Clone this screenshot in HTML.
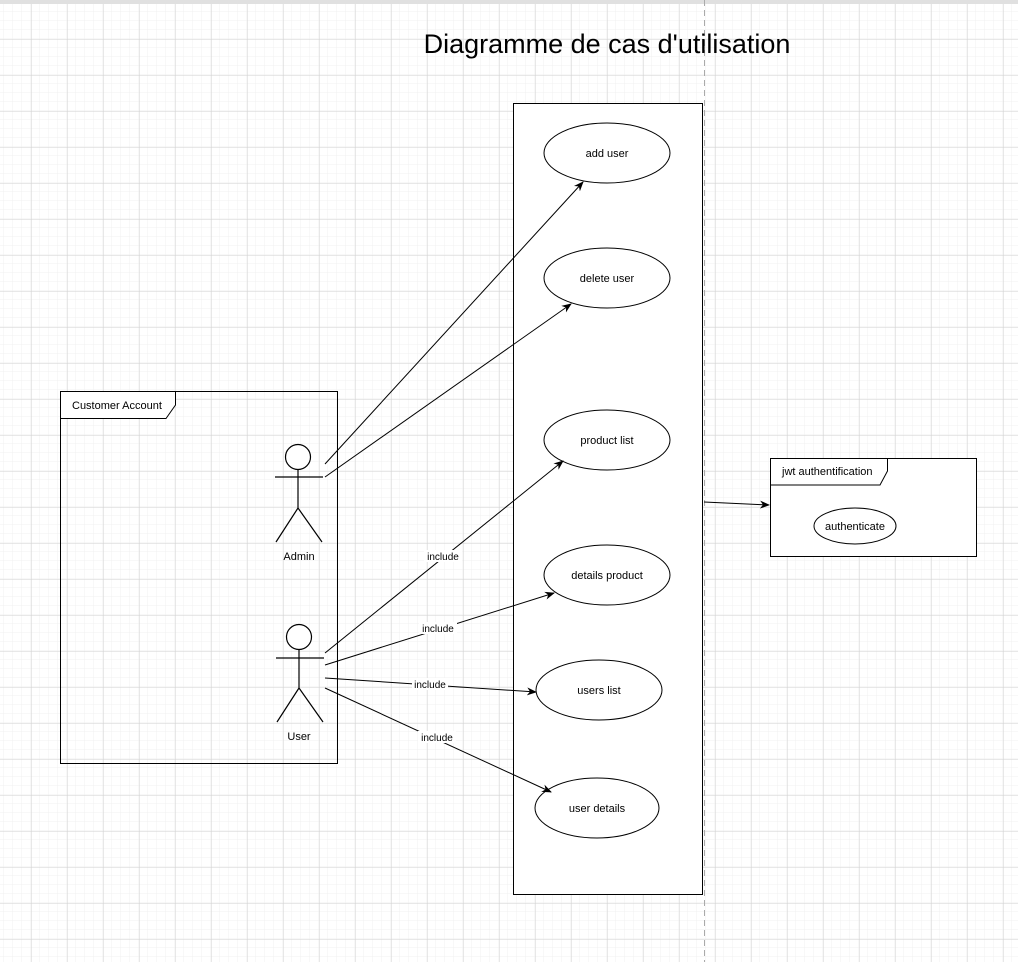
<!DOCTYPE html>
<html><head><meta charset="utf-8"><style>
body{margin:0;width:1018px;height:962px;overflow:hidden;background:#fff;font-family:"Liberation Sans",Arial,sans-serif}
svg text{font-family:"Liberation Sans",Arial,sans-serif}
</style></head><body>
<svg width="1018" height="962" xmlns="http://www.w3.org/2000/svg">
<defs>
<pattern id="minor" x="4" y="3" width="9" height="9" patternUnits="userSpaceOnUse"><path d="M9 0V9M0 9H9" stroke="#f0f0f0" stroke-width="1" fill="none"/></pattern>
<pattern id="major" x="31.5" y="3.5" width="36" height="36" patternUnits="userSpaceOnUse"><path d="M0 0V36M0 0H36" stroke="#d2d2d2" stroke-width="1" fill="none"/></pattern>
<marker id="a" markerWidth="10" markerHeight="10" refX="9" refY="5" orient="auto" markerUnits="userSpaceOnUse"><path d="M0 1L10 5L0 9L3 5Z" fill="#000"/></marker>
</defs>
<rect width="1018" height="962" fill="url(#minor)"/>
<rect width="1018" height="962" fill="url(#major)"/>
<rect x="0" y="0" width="1018" height="4" fill="#e0e0e0"/>
<line x1="704.5" y1="0" x2="704.5" y2="962" stroke="#aaa" stroke-dasharray="6,4"/>
<text x="607" y="53" font-size="27" text-anchor="middle" fill="#000">Diagramme de cas d'utilisation</text>
<rect x="513.5" y="103.5" width="189" height="791" fill="#fff" stroke="#000"/>
<g fill="#fff" stroke="#000">
<ellipse cx="607" cy="153" rx="63" ry="30"/>
<ellipse cx="607" cy="278" rx="63" ry="30"/>
<ellipse cx="607" cy="440" rx="63" ry="30"/>
<ellipse cx="607" cy="575" rx="63" ry="30"/>
<ellipse cx="599" cy="690" rx="63" ry="30"/>
<ellipse cx="597" cy="808" rx="62" ry="30"/>
</g>
<g font-size="11" text-anchor="middle" fill="#000">
<text x="607" y="157">add user</text>
<text x="607" y="282">delete user</text>
<text x="607" y="444">product list</text>
<text x="607" y="579">details product</text>
<text x="599" y="694">users list</text>
<text x="597" y="812">user details</text>
</g>
<rect x="60.5" y="391.5" width="277" height="372" fill="#fff" fill-opacity="0" stroke="#000"/>
<path d="M60.5 391.5H175.5V405L166 418.5H60.5Z" fill="#fff" stroke="#000"/>
<text x="72" y="409" font-size="11">Customer Account</text>
<g stroke="#000" fill="none" stroke-width="1.2">
<circle cx="298" cy="457" r="12.5" fill="#fff"/>
<path d="M298 469.5V508M275 477H323M298 508L276 542M298 508L322 542"/>
<circle cx="299" cy="637" r="12.5" fill="#fff"/>
<path d="M299 649.5V688M276 658H324M299 688L277 722M299 688L323 722"/>
</g>
<text x="299" y="560" font-size="11" text-anchor="middle">Admin</text>
<text x="299" y="740" font-size="11" text-anchor="middle">User</text>
<g stroke="#000" fill="none" stroke-width="1">
<line x1="325" y1="464" x2="583" y2="182" marker-end="url(#a)"/>
<line x1="325" y1="477" x2="571" y2="304" marker-end="url(#a)"/>
<line x1="325" y1="653" x2="563" y2="461" marker-end="url(#a)"/>
<line x1="325" y1="665" x2="554" y2="593" marker-end="url(#a)"/>
<line x1="325" y1="678" x2="536" y2="692" marker-end="url(#a)"/>
<line x1="325" y1="688" x2="551" y2="792" marker-end="url(#a)"/>
<line x1="704" y1="502" x2="769" y2="505" marker-end="url(#a)"/>
</g>
<g font-size="10" text-anchor="middle">
<rect x="424" y="550" width="38" height="12" fill="#fff"/><text x="443" y="560">include</text>
<rect x="419" y="622" width="38" height="12" fill="#fff"/><text x="438" y="632">include</text>
<rect x="412" y="678" width="36" height="12" fill="#fff"/><text x="430" y="688">include</text>
<rect x="418" y="731" width="38" height="12" fill="#fff"/><text x="437" y="741">include</text>
</g>
<rect x="770.5" y="458.5" width="206" height="98" fill="#fff" stroke="#000"/>
<path d="M770.5 458.5H887.5V471L880 485H770.5Z" fill="#fff" stroke="#000"/>
<text x="782" y="475" font-size="11">jwt authentification</text>
<ellipse cx="855" cy="526" rx="41" ry="18" fill="#fff" stroke="#000"/>
<text x="855" y="530" font-size="11" text-anchor="middle">authenticate</text>
</svg>
</body></html>
